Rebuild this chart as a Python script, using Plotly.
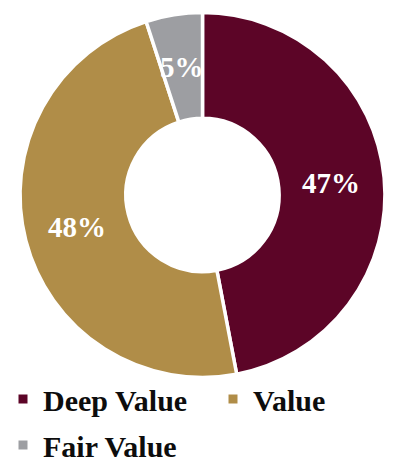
import numpy as np
import plotly.graph_objects as go

categories = ["Deep Value", "Value", "Fair Value"]
shares = [47, 48, 5]
colors = ["#5C0527", "#B08D48", "#9D9EA2"]

W, H = 401, 461
HOLE = 0.42
DOM_X = [0.05, 0.96]
DOM_Y = [0.181, 0.973]
SERIF = "Liberation Serif"

fig = go.Figure()
fig.add_trace(
    go.Pie(
        labels=categories,
        values=shares,
        sort=False,
        direction="clockwise",
        rotation=0,
        hole=HOLE,
        marker=dict(colors=colors, line=dict(color="white", width=3.5)),
        textinfo="none",
        domain=dict(x=DOM_X, y=DOM_Y),
        showlegend=False,
        hoverinfo="label+percent",
    )
)

# percentage labels at the middle of each ring segment
radius_px = min((DOM_X[1] - DOM_X[0]) * W, (DOM_Y[1] - DOM_Y[0]) * H) / 2
cx, cy = sum(DOM_X) / 2, sum(DOM_Y) / 2
mid_r = radius_px * (1 + HOLE) / 2
total = sum(shares)
cum = np.cumsum([0] + shares[:-1])
for s, c0 in zip(shares, cum):
    ang = 2 * np.pi * (c0 + s / 2) / total
    fig.add_annotation(
        x=cx + mid_r * np.sin(ang) / W,
        y=cy + mid_r * np.cos(ang) / H,
        xref="paper", yref="paper",
        xanchor="center", yanchor="middle",
        text=f"{s / total:.0%}",
        showarrow=False,
        font=dict(family=SERIF, size=29, color="white", weight="bold"),
    )

# legend entries: one legend box per entry
legend_ids = ["legend", "legend2", "legend3"]
for name, col, lg in zip(categories, colors, legend_ids):
    fig.add_trace(
        go.Scatter(
            x=[None], y=[None], mode="markers", name=name,
            marker=dict(symbol="square", size=9, color=col),
            legend=lg, hoverinfo="skip",
        )
    )

legend_font = dict(family=SERIF, size=30, color="#0d0d0d", weight="bold")


def legend_box(x_px, y_px):
    return dict(
        orientation="h", x=x_px / W, xanchor="left",
        y=1 - y_px / H, yanchor="middle",
        font=legend_font, itemsizing="trace", bgcolor="rgba(0,0,0,0)",
    )


fig.update_layout(
    width=W,
    height=H,
    margin=dict(l=0, r=0, t=0, b=0, autoexpand=False),
    paper_bgcolor="white",
    plot_bgcolor="white",
    xaxis=dict(visible=False),
    yaxis=dict(visible=False),
    showlegend=True,
    legend=legend_box(3, 399),
    legend2=legend_box(213, 399),
    legend3=legend_box(3, 445),
)

fig.write_html("out.html")
